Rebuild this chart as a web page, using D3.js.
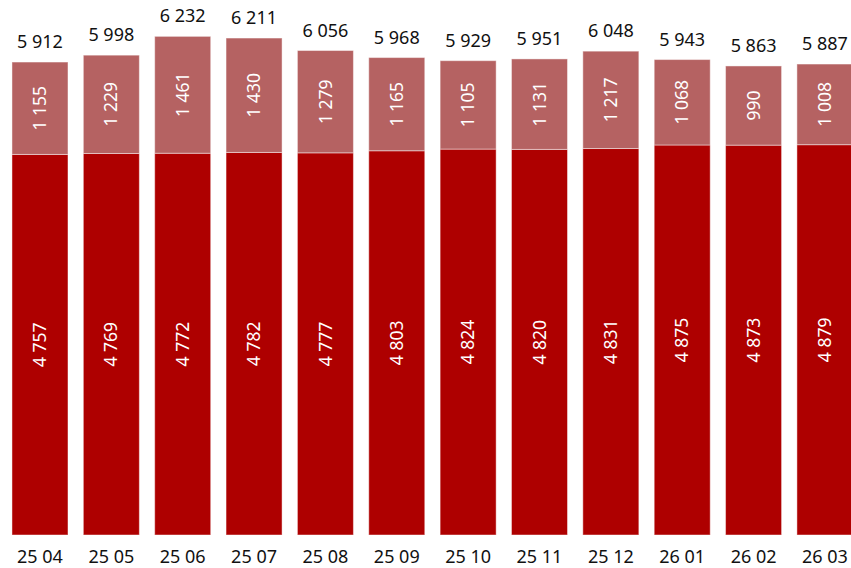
<!DOCTYPE html>
<html>
<head>
<meta charset="utf-8">
<script src="https://cdn.jsdelivr.net/npm/d3@7"></script>
<style>
  body { margin: 0; background: #fff; }
  text { font-family: "Noto Sans", "Open Sans", sans-serif; }
</style>
</head>
<body>
<div id="chart"></div>
<script>
var months = ["25 04","25 05","25 06","25 07","25 08","25 09","25 10","25 11","25 12","26 01","26 02","26 03"];
var baseVals = [4757,4769,4772,4782,4777,4803,4824,4820,4831,4875,4873,4879];
var topVals = [1155,1229,1461,1430,1279,1165,1105,1131,1217,1068,990,1008];
var totals = [5912,5998,6232,6211,6056,5968,5929,5951,6048,5943,5863,5887];

var width = 851, height = 568;
var fmt = function(v){ return d3.format(",")(v).replace(/,/g, " "); };

var svg = d3.select("#chart").append("svg")
    .attr("width", width)
    .attr("height", height);

var x = d3.scaleBand()
    .domain(months)
    .range([4.3, 860.6])
    .paddingInner(0.215)
    .paddingOuter(0.1075);

var y = d3.scaleLinear()
    .domain([0, 6500])
    .range([535, 15]);

var data = months.map(function(m, i) {
  return { m: m, base: baseVals[i], top: topVals[i], total: totals[i] };
});

var g = svg.append("g");

// bottom segment
g.selectAll(".base")
    .data(data)
  .enter().append("rect")
    .attr("class", "base")
    .attr("x", function(d) { return x(d.m); })
    .attr("width", x.bandwidth())
    .attr("y", function(d) { return y(d.base); })
    .attr("height", function(d) { return y(0) - y(d.base); })
    .attr("fill", "#ae0000")
    .attr("stroke", "rgba(255,255,255,0.45)")
    .attr("stroke-width", 1);

// top segment
g.selectAll(".topseg")
    .data(data)
  .enter().append("rect")
    .attr("class", "topseg")
    .attr("x", function(d) { return x(d.m); })
    .attr("width", x.bandwidth())
    .attr("y", function(d) { return y(d.base + d.top); })
    .attr("height", function(d) { return y(d.base) - y(d.base + d.top); })
    .attr("fill", "#b56262")
    .attr("stroke", "rgba(255,255,255,0.45)")
    .attr("stroke-width", 1);

// labels inside bars (rotated)
function innerLabel(cls, getMid, getVal) {
  g.selectAll("." + cls)
      .data(data)
    .enter().append("text")
      .attr("class", cls)
      .attr("transform", function(d) {
        return "translate(" + (x(d.m) + x.bandwidth() / 2) + "," + getMid(d) + ") rotate(-90)";
      })
      .attr("text-anchor", "middle")
      .attr("dy", "0.35em")
      .attr("fill", "#fff")
      .style("font-size", "17.5px")
      .text(function(d) { return fmt(getVal(d)); });
}
innerLabel("lblBase", function(d) { return (y(0) + y(d.base)) / 2; }, function(d) { return d.base; });
innerLabel("lblTop", function(d) { return (y(d.base) + y(d.base + d.top)) / 2; }, function(d) { return d.top; });

// totals
g.selectAll(".total")
    .data(data)
  .enter().append("text")
    .attr("class", "total")
    .attr("x", function(d) { return x(d.m) + x.bandwidth() / 2; })
    .attr("y", function(d) { return y(d.total) - 14; })
    .attr("text-anchor", "middle")
    .attr("fill", "#111")
    .style("font-size", "18px")
    .text(function(d) { return fmt(d.total); });

// x axis labels
var xAxis = svg.append("g")
    .attr("transform", "translate(0,535)")
    .call(d3.axisBottom(x).tickSize(0).tickPadding(15));
xAxis.select(".domain").remove();
xAxis.selectAll("text")
    .style("font-size", "18px")
    .style("font-family", "'Noto Sans', sans-serif")
    .attr("fill", "#111");
</script>
</body>
</html>
